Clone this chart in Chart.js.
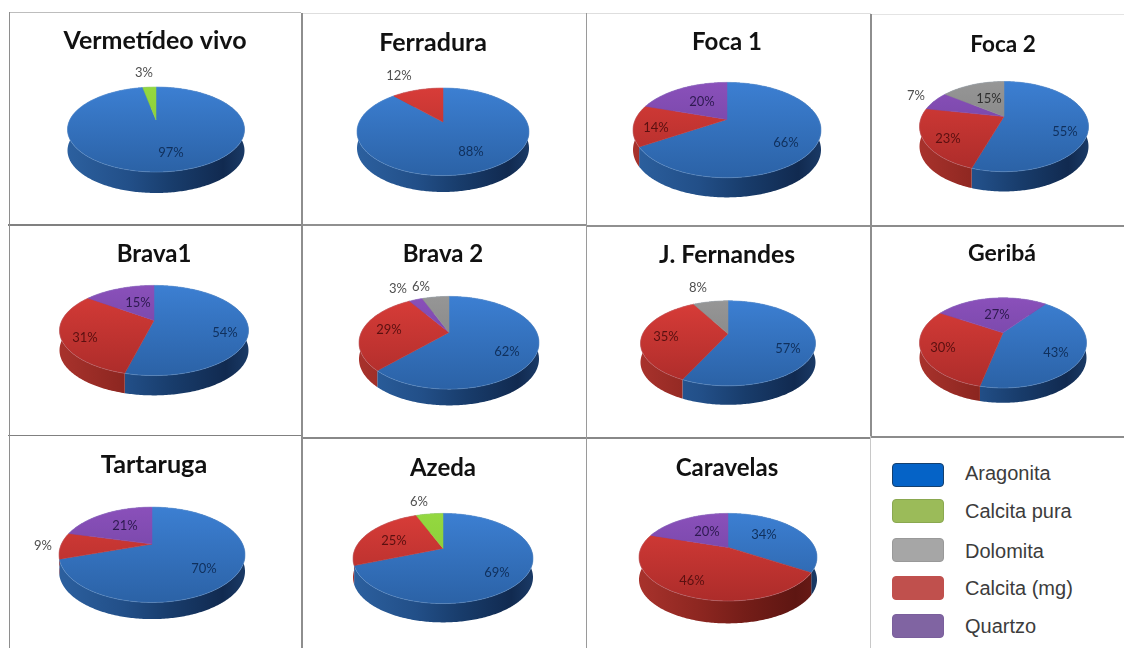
<!DOCTYPE html>
<html lang="pt">
<head>
<meta charset="utf-8">
<title>Composição mineralógica</title>
<style>
html,body{margin:0;padding:0;background:#fff;width:1124px;height:648px;overflow:hidden}
canvas{position:absolute;filter:blur(0.35px)}
.rule{position:absolute}
.sw{position:absolute;box-sizing:border-box;border-radius:4px;width:52px;height:24px}
.lt{position:absolute;left:965px;font:20px "Liberation Sans",Arial,sans-serif;color:#3c3c3c;line-height:24px;white-space:nowrap}
</style>
<script src="https://cdn.jsdelivr.net/npm/chart.js@4"></script>
</head>
<body>
<script>
// ---------- data ----------
const categories = ['Aragonita','Calcita (mg)','Quartzo','Dolomita','Calcita pura'];
const titles = ['Vermetídeo vivo','Ferradura','Foca 1','Foca 2','Brava1','Brava 2','J. Fernandes','Geribá','Tartaruga','Azeda','Caravelas'];
const vermetideo  = [97, 0, 0, 0, 3];
const ferradura   = [88,12, 0, 0, 0];
const foca1       = [66,14,20, 0, 0];
const foca2       = [55,23, 7,15, 0];
const brava1      = [54,31,15, 0, 0];
const brava2      = [62,29, 3, 6, 0];
const jFernandes  = [57,35, 0, 8, 0];
const geriba      = [43,30,27, 0, 0];
const tartaruga   = [70, 9,21, 0, 0];
const azeda       = [69,25, 0, 0, 6];
const caravelas   = [34,46,20, 0, 0];
const series = [vermetideo,ferradura,foca1,foca2,brava1,brava2,jFernandes,geriba,tartaruga,azeda,caravelas];
const legendOrder = ['Aragonita','Calcita pura','Dolomita','Calcita (mg)','Quartzo'];

// ---------- layout ----------
const startRotation = [0,0,0,0,0,0,0,38,0,0,0];
const titleSizes = [25,25,24,22.5,24,24,24.7,23,25.2,24,24];
// title centre x, title centre y, pie left, right, top, bottom, apex x, apex y
const pieBoxes = [
 [155, 41, 67,244, 87,193,156,120],
 [433, 43,357,529, 88,192,443,122],
 [727, 42,634,822, 82,197,727,119],
 [1003,44,920,1089,81,191,1004,116],
 [154,254, 60,249,285,395,154,320],
 [443,254,359,539,296,405,449,332],
 [727,255,641,816,301,405,728,334],
 [1002,254,920,1087,298,403,1003,333],
 [154,465, 58,244,507,619,152,544],
 [443,468,353,533,513,622,443,548],
 [727,468,639,817,513,623,728,547]
];
// label centres, one per slice in category order (null = no label)
const labelSpots = [
 [[171,153],null,null,null,[144,73]],
 [[471,152],[399,76],null,null,null],
 [[786,142],[656,127],[702,101],null,null],
 [[1065,131],[948,138],[916,95],[989,98],null],
 [[225,332],[85,337],[138,302],null,null],
 [[507,351],[389,329],[398,288],[421,286],null],
 [[788,349],[666,337],null,[698,288],null],
 [[1056,353],[943,348],[997,315],null,null],
 [[204,569],[43,546],[125,526],null,null],
 [[497,572],[394,540],null,null,[419,501]],
 [[764,534],[692,580],[707,531],null,null]
];
// x, y, w, h, colour
const rules = [
 [9,12,292,1,'#bdbdbd'],[302,13,284,1,'#dedede'],[586,13,285,1,'#dedede'],[871,14,253,1,'#e4e4e4'],
 [8,224,294,1.5,'#808080'],[302,224,284,1.5,'#909090'],[587,225,284,1.5,'#909090'],[870,225,254,1.5,'#8c8c8c'],
 [8,434.5,294,1.5,'#808080'],[302,437,284,1.5,'#888'],[587,437,283,1.5,'#888'],[870,436,254,1.5,'#8c8c8c'],
 [8.5,12,1.5,636,'#8e8e8e'],[301,13,1.5,635,'#8e8e8e'],[585.5,13,1.5,635,'#9a9a9a'],[870,14,1.5,422,'#8e8e8e'],[869.5,436,1,212,'#c8c8c8']
];
const catStyle = {
 'Aragonita':   {base:'#3371c0',top:['#3c7fd2','#2b62a6'],wall:['#2c609f','#224f88','#183c6b','#112a50','#1a3a66'],ink:'#10305c',sw:'#0563c7',bd:'#15406e'},
 'Calcita (mg)':{base:'#c53633',top:['#d83c38','#ac2c2a'],wall:['#a8322c','#8c2620','#741d18','#5e1612','#6a1a16'],ink:'#5a1010',sw:'#c0504d',bd:'#c0504d'},
 'Quartzo':     {base:'#7d4aab',top:['#8a50ba','#68409a'],wall:['#5e3a85','#543377','#482b68','#3c245a','#442864'],ink:'#2e1a50',sw:'#8064a2',bd:'#7a5f9c'},
 'Dolomita':    {base:'#888888',top:['#969696','#7a7a7a'],wall:['#6e6e6e','#626262','#565656','#484848','#505050'],ink:'#303030',sw:'#a6a6a6',bd:'#999'},
 'Calcita pura':{base:'#8ccf3a',top:['#94d840','#82c632'],wall:['#5f9a28','#548a22','#497a1e','#3e6a18','#46741c'],ink:'#2e4a10',sw:'#9bbb59',bd:'#8aa850'}
};
const legendY = [463,499,538,576,614];
const legendTextY = [473,511,551,588,626];
const TILT = 0.2236;
const CW = 250, CH = 190, LINE_H = 1.2;

rules.forEach(r=>{
  const d=document.createElement('div');d.className='rule';
  d.style.cssText=`left:${r[0]}px;top:${r[1]}px;width:${r[2]}px;height:${r[3]}px;background:${r[4]}`;
  document.body.appendChild(d);
});

const perspectivePie = {
  id:'perspectivePie',
  beforeDatasetDraw(chart){
    const ctx=chart.ctx, o=chart.options.plugins.perspectivePie, els=chart.getDatasetMeta(0).data;
    const r=els[0].outerRadius, cx=els[0].x+o.dx, cy=els[0].y;
    const sx=o.rx/r;
    const project=(ang,off)=>{
      const t=ang+Math.PI/2, x=Math.sin(t), y=-Math.cos(t), w=1-TILT*y;
      return [cx+sx*r*x/w, cy+r*y/w+off];
    };
    const arcPts=(el,off)=>{
      const n=Math.max(2,Math.ceil((el.endAngle-el.startAngle)/0.015)),p=[];
      for(let i=0;i<=n;i++)p.push(project(el.startAngle+(el.endAngle-el.startAngle)*i/n,off));
      return p;
    };
    const faceTop=cy-r/(1+TILT), faceBot=cy+r/(1-TILT), halfW=sx*r/Math.sqrt(1-TILT*TILT);
    const depth=o.depth;
    // side wall
    els.forEach((el,i)=>{
      if(el.endAngle-el.startAngle<1e-6)return;
      const st=catStyle[categories[i]];
      const g=ctx.createLinearGradient(cx-halfW,0,cx+halfW,0);
      [0,.35,.6,.88,1].forEach((s,k)=>g.addColorStop(s,st.wall[k]));
      const a=arcPts(el,0),b=arcPts(el,depth).reverse();
      ctx.beginPath();a.concat(b).forEach((p,k)=>k?ctx.lineTo(p[0],p[1]):ctx.moveTo(p[0],p[1]));
      ctx.closePath();ctx.fillStyle=g;ctx.fill();
    });
    // top face
    els.forEach((el,i)=>{
      if(el.endAngle-el.startAngle<1e-6)return;
      const st=catStyle[categories[i]];
      const g=ctx.createLinearGradient(0,faceTop,0,faceBot);
      g.addColorStop(0,st.top[0]);g.addColorStop(1,st.top[1]);
      ctx.beginPath();ctx.moveTo(cx,cy);
      arcPts(el,0).forEach(p=>ctx.lineTo(p[0],p[1]));
      ctx.closePath();ctx.fillStyle=g;ctx.fill();
      ctx.strokeStyle=g;ctx.lineWidth=0.5;ctx.stroke();
    });
    // bevel on the rim
    els.forEach(el=>{
      if(el.endAngle-el.startAngle<1e-6)return;
      ctx.beginPath();arcPts(el,0).forEach((p,k)=>k?ctx.lineTo(p[0],p[1]):ctx.moveTo(p[0],p[1]));
      ctx.strokeStyle='rgba(190,215,245,0.18)';ctx.lineWidth=1;ctx.stroke();
    });
    // percentage labels
    const faceMid=(faceTop+faceBot)/2, faceRy=(faceBot-faceTop)/2;
    ctx.font=`13px Lato, sans-serif`;ctx.textAlign='center';ctx.textBaseline='middle';
    o.spots.forEach((s,i)=>{
      if(!s)return;
      const lx=s[0]-o.left, ly=s[1]-o.top;
      const inside=((lx-cx)/halfW)**2+((ly-faceMid)/faceRy)**2<1;
      ctx.fillStyle=inside?catStyle[categories[i]].ink:'#4f4f4f';
      ctx.fillText(chart.data.datasets[0].data[i]+'%',lx,ly);
    });
    return false;
  }
};

series.forEach((vals,i)=>{
  const [tx,ty,L,R,T,B,ax,ay]=pieBoxes[i];
  const size=titleSizes[i], titleH=size*LINE_H;
  const left=tx-CW/2, top=ty-titleH/2;
  const Ry=(ay-T)*(1+TILT);
  const halfW=(R-L)/2, Rx=halfW*Math.sqrt(1-TILT*TILT);
  const depth=B-(ay+Ry/(1-TILT));
  const cv=document.createElement('canvas');
  cv.width=CW;cv.height=CH;
  cv.style.left=left+'px';cv.style.top=top+'px';cv.style.width=CW+'px';cv.style.height=CH+'px';
  document.body.appendChild(cv);
  new Chart(cv,{
    type:'pie',
    data:{labels:categories,datasets:[{data:vals,backgroundColor:categories.map(c=>catStyle[c].base),borderWidth:0,rotation:startRotation[i]}]},
    plugins:[perspectivePie],
    options:{
      responsive:false,animation:false,events:[],
      layout:{padding:{left:0,right:0,top:0,bottom:CH-(ay+Ry-top)}},
      plugins:{
        legend:{display:false},tooltip:{enabled:false},
        title:{display:true,text:titles[i],color:'#111',align:'center',
          font:{family:'Lato, sans-serif',size:size,weight:'bold',lineHeight:LINE_H},
          padding:{top:0,bottom:(ay-Ry)-top-titleH}},
        perspectivePie:{rx:Rx,depth:depth,dx:ax-tx,spots:labelSpots[i],left:left,top:top}
      }
    }
  });
});

legendOrder.forEach((name,i)=>{
  const st=catStyle[name];
  const s=document.createElement('div');s.className='sw';
  s.style.cssText=`left:892px;top:${legendY[i]}px;background:${st.sw};border:1px solid ${st.bd}`;
  document.body.appendChild(s);
  const t=document.createElement('div');t.className='lt';t.textContent=name;
  t.style.top=(legendTextY[i]-12)+'px';
  document.body.appendChild(t);
});
</script>
</body>
</html>
